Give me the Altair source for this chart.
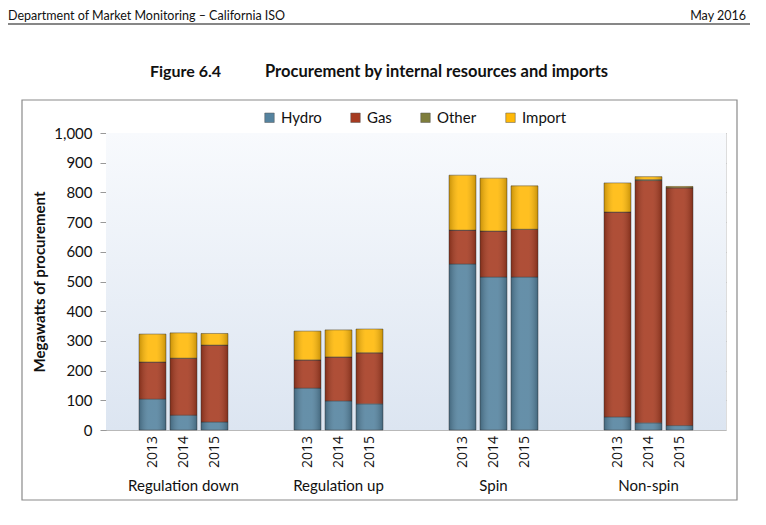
import altair as alt
import pandas as pd

groups = ["Regulation down", "Regulation up", "Spin", "Non-spin"]
years = ["2013", "2014", "2015"]
series = ["Hydro", "Gas", "Other", "Import"]
colors = ["#55839F", "#A63B21", "#7E7D3C", "#FFB908"]

# values per group/year (2013, 2014, 2015 for each group)
hydro = [104, 50, 27, 141, 98, 88, 559, 515, 515, 44, 24, 15]
gas = [125, 192, 259, 95, 148, 172, 114, 155, 161, 690, 816, 800]
other = [0, 0, 0, 0, 0, 0, 0, 0, 0, 0, 3, 2]
imports = [94, 85, 39, 97, 91, 80, 185, 178, 146, 98, 10, 3]

y_ticks = [0, 100, 200, 300, 400, 500, 600, 700, 800, 900, 1000]

rows = []
for i, (g, y) in enumerate([(g, y) for g in groups for y in years]):
    for k, (s, vals) in enumerate(zip(series, [hydro, gas, other, imports])):
        rows.append({"group": g, "year": y, "series": s, "ord": k, "mw": vals[i]})
df = pd.DataFrame(rows)
years_df = pd.DataFrame([{"group": g, "year": y} for g in groups for y in years])
one = pd.DataFrame({"a": [0]})

W, H = 620, 297
FONT = "Lato"

x_enc = alt.X("group:N", sort=groups,
              scale=alt.Scale(domain=groups, paddingInner=0.426, paddingOuter=0.213),
              axis=alt.Axis(title=None, labelAngle=0, ticks=False, domain=False,
                            labelPadding=48, labelFontSize=15, labelColor="#111",
                            labelFont=FONT, grid=False))
xo_enc = alt.XOffset("year:N", sort=years,
                     scale=alt.Scale(domain=years, paddingInner=0.13, paddingOuter=0))
y_enc = alt.Y("sum(mw):Q",
              scale=alt.Scale(domain=[0, 1000], nice=False),
              axis=alt.Axis(values=y_ticks, format=",.0f", title="Megawatts of procurement",
                            titleFont=FONT, titleFontSize=15, titleFontWeight="bold",
                            titleColor="#111", titlePadding=6,
                            labelFont=FONT, labelFontSize=15, labelColor="#111",
                            labelPadding=8, tickSize=6, tickColor="#999",
                            domainColor="#999", gridColor="#B9B9B9", gridWidth=1))

background = alt.Chart(one).mark_rect(
    color=alt.LinearGradient(gradient="linear",
                             stops=[alt.GradientStop(color="#F8FAFD", offset=0),
                                    alt.GradientStop(color="#DCE5F1", offset=1)],
                             x1=0, x2=0, y1=0, y2=1)
).encode(x=alt.value(0), x2=alt.value(W), y=alt.value(0), y2=alt.value(H))

bars = alt.Chart(df).mark_bar(stroke="#333333", strokeOpacity=0.45, strokeWidth=1).encode(
    x=x_enc,
    xOffset=xo_enc,
    y=y_enc,
    color=alt.Color("series:N", sort=series,
                    scale=alt.Scale(domain=series, range=colors),
                    legend=alt.Legend(title=None, orient="none", legendX=156, legendY=-23,
                                      direction="horizontal", symbolType="square",
                                      symbolSize=90, symbolStrokeColor="#555",
                                      symbolStrokeWidth=0.5,
                                      labelFont=FONT, labelFontSize=15, labelColor="#111",
                                      labelOffset=4, columnPadding=26)),
    order=alt.Order("ord:Q", sort="ascending"),
)

shine = alt.Chart(df).mark_bar(
    strokeWidth=0,
    fill=alt.LinearGradient(gradient="linear",
                            stops=[alt.GradientStop(color="rgba(0,0,0,0.22)", offset=0),
                                   alt.GradientStop(color="rgba(255,255,255,0.10)", offset=0.35),
                                   alt.GradientStop(color="rgba(255,255,255,0.10)", offset=0.65),
                                   alt.GradientStop(color="rgba(0,0,0,0.22)", offset=1)],
                            x1=0, x2=1, y1=0, y2=0)
).encode(
    x=x_enc, xOffset=xo_enc, y=y_enc,
    detail="series:N",
    order=alt.Order("ord:Q", sort="ascending"),
)

year_labels = alt.Chart(years_df).mark_text(
    angle=270, align="right", baseline="middle", font="Open Sans", fontSize=14,
    color="#111", dy=0
).encode(x=x_enc, xOffset=xo_enc, y=alt.value(H + 6), text="year:N")

box = alt.Chart(one).mark_rect(fill=None, stroke="#8A8A8A", strokeWidth=1.2).encode(
    x=alt.value(-84), x2=alt.value(631), y=alt.value(-33), y2=alt.value(367))

header_rule = alt.Chart(one).mark_rule(color="#111", strokeWidth=1.2).encode(
    x=alt.value(-98), x2=alt.value(644), y=alt.value(-109))
header_left = alt.Chart(one).mark_text(
    align="left", baseline="middle", font=FONT, fontSize=12.5, color="#111"
).encode(x=alt.value(-98), y=alt.value(-117),
         text=alt.value("Department of Market Monitoring – California ISO"))
header_right = alt.Chart(one).mark_text(
    align="right", baseline="middle", font=FONT, fontSize=12.5, color="#111"
).encode(x=alt.value(640), y=alt.value(-117), text=alt.value("May 2016"))
title_a = alt.Chart(one).mark_text(
    align="left", baseline="middle", font=FONT, fontSize=16, fontWeight="bold", color="#111"
).encode(x=alt.value(44), y=alt.value(-61), text=alt.value("Figure 6.4"))
title_b = alt.Chart(one).mark_text(
    align="left", baseline="middle", font=FONT, fontSize=16.5, fontWeight="bold", color="#111"
).encode(x=alt.value(159), y=alt.value(-61),
         text=alt.value("Procurement by internal resources and imports"))

chart = alt.layer(
    background, bars, shine, year_labels, box, header_rule, header_left, header_right,
    title_a, title_b
).properties(
    width=W, height=H,
    autosize=alt.AutoSizeParams(type="none"),
    padding={"left": 98, "top": 125, "right": 24, "bottom": 80},
).configure_view(stroke="#B0B0B0", strokeWidth=1).configure(background="white")

chart.save("out.html", embed_options={"renderer": "svg", "actions": False})
